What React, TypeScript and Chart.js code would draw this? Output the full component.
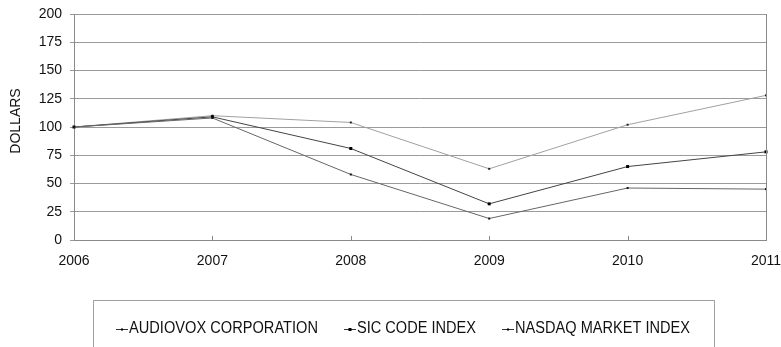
import React, { useEffect, useRef } from "react";
import { Chart, registerables } from "chart.js";

Chart.register(...registerables);

const years = ["2006", "2007", "2008", "2009", "2010", "2011"];
const audiovox = [100, 108, 58, 19, 46, 45];
const sicIndex = [100, 109, 81, 32, 65, 78];
const nasdaq = [100, 110, 104, 63, 102, 128];
const yTicks = [0, 25, 50, 75, 100, 125, 150, 175, 200];
const seriesNames = ["AUDIOVOX CORPORATION", "SIC CODE INDEX", "NASDAQ MARKET INDEX"];
const yTitle = "DOLLARS";

const FONT = '"Liberation Sans", Arial, sans-serif';

const seriesStyles = [
  { line: "#666666", point: "#111", size: 2 },
  { line: "#444444", point: "#000", size: 3 },
  { line: "#a0a0a0", point: "#222", size: 2 },
];

const decorPlugin = {
  id: "decor",
  afterDraw(chart: any) {
    const ctx = chart.ctx as CanvasRenderingContext2D;
    const area = chart.chartArea;
    const xs = chart.scales.x;
    ctx.save();
    // right border
    ctx.strokeStyle = "#8a8a8a";
    ctx.lineWidth = 1;
    ctx.beginPath();
    ctx.moveTo(Math.round(area.right) + 0.5, area.top);
    ctx.lineTo(Math.round(area.right) + 0.5, area.bottom);
    ctx.stroke();
    // inner x ticks
    ctx.beginPath();
    for (let i = 0; i < years.length; i++) {
      const px = Math.round(xs.getPixelForValue(i)) + 0.5;
      ctx.moveTo(px, area.bottom - 4);
      ctx.lineTo(px, area.bottom);
    }
    ctx.stroke();
    // y title
    ctx.fillStyle = "#111";
    ctx.font = `14px ${FONT}`;
    ctx.textAlign = "center";
    ctx.textBaseline = "middle";
    ctx.translate(16, 121);
    ctx.rotate(-Math.PI / 2);
    ctx.fillText(yTitle, 0, 0);
    ctx.restore();

    // legend
    ctx.save();
    ctx.strokeStyle = "#a0a0a0";
    ctx.lineWidth = 1;
    ctx.strokeRect(93.5, 300.5, 621, 80);
    const itemX = [116, 344, 502];
    const cy = 328.5;
    ctx.font = `15px ${FONT}`;
    ctx.textBaseline = "middle";
    ctx.textAlign = "left";
    for (let i = 0; i < seriesNames.length; i++) {
      const st = seriesStyles[i];
      const x0 = itemX[i];
      ctx.strokeStyle = "#333";
      ctx.beginPath();
      ctx.moveTo(x0, Math.round(cy) + 0.5);
      ctx.lineTo(x0 + 12, Math.round(cy) + 0.5);
      ctx.stroke();
      ctx.fillStyle = "#000";
      const s = st.size;
      ctx.fillRect(x0 + 6 - s / 2, Math.round(cy) + 0.5 - s / 2, s, s);
      ctx.fillStyle = "#111";
      ctx.save();
      ctx.translate(x0 + 13, cy);
      const w = ctx.measureText(seriesNames[i]).width;
      const targets = [189, 119, 175];
      ctx.scale(targets[i] / w, 1.05);
      ctx.fillText(seriesNames[i], 0, 0);
      ctx.restore();
    }
    ctx.restore();
  },
};

export default function App() {
  const ref = useRef<HTMLCanvasElement | null>(null);

  useEffect(() => {
    if (!ref.current) return;
    const data = [audiovox, sicIndex, nasdaq];
    const chart = new Chart(ref.current, {
      type: "line",
      data: {
        labels: years,
        datasets: data.map((d, i) => ({
          label: seriesNames[i],
          data: d,
          borderColor: seriesStyles[i].line,
          borderWidth: 1,
          pointStyle: "rect",
          pointRadius: seriesStyles[i].size * 0.7072,
          pointBorderWidth: 0,
          pointBackgroundColor: seriesStyles[i].point,
          pointHoverRadius: 2,
          tension: 0,
          fill: false,
        })),
      },
      options: {
        animation: false,
        responsive: true,
        maintainAspectRatio: false,
        layout: { padding: { top: 14, right: 15, left: 0, bottom: 0 } },
        plugins: {
          legend: { display: false },
          tooltip: { enabled: false },
        },
        scales: {
          x: {
            type: "category",
            offset: false,
            grid: { display: false, drawTicks: false },
            border: { display: true, color: "#8a8a8a", width: 1 },
            ticks: {
              color: "#111",
              font: { family: FONT, size: 14 },
              padding: 13,
              maxRotation: 0,
              autoSkip: false,
            },
            afterFit(scale: any) {
              scale.height = 107;
              scale.paddingLeft = 0;
              scale.paddingRight = 0;
            },
          },
          y: {
            min: 0,
            max: 200,
            afterBuildTicks(scale: any) {
              scale.ticks = yTicks.map((v) => ({ value: v }));
            },
            grid: {
              color: "#9a9a9a",
              lineWidth: 1,
              tickLength: 4,
              drawTicks: true,
            },
            border: { display: true, color: "#8a8a8a", width: 1 },
            ticks: {
              color: "#111",
              font: { family: FONT, size: 14 },
              padding: 8,
            },
            afterFit(scale: any) {
              scale.width = 74;
              scale.paddingTop = 0;
              scale.paddingBottom = 0;
            },
          },
        },
      },
      plugins: [decorPlugin],
    });
    return () => chart.destroy();
  }, []);

  return (
    <div
      style={{
        position: "fixed",
        left: 0,
        top: 0,
        width: 781,
        height: 347,
        overflow: "hidden",
        background: "#fff",
      }}
    >
      <canvas ref={ref} />
    </div>
  );
}
